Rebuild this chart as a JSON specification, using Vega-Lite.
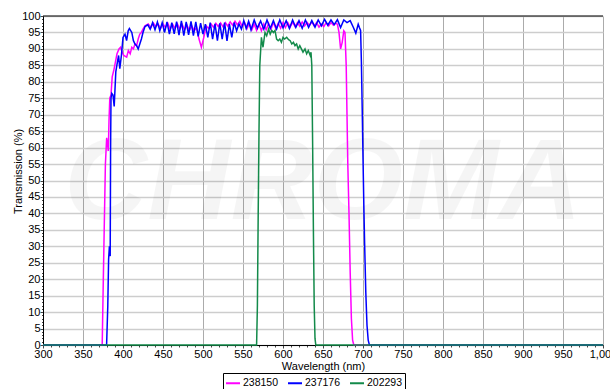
{
  "$schema": "https://vega.github.io/schema/vega-lite/v6.json",
  "autosize": {"type": "none"},
  "width": 560,
  "height": 329,
  "padding": {"left": 43, "right": 7, "top": 16, "bottom": 44},
  "background": "white",
  "config": {
    "view": {"stroke": null},
    "font": "Liberation Sans",
    "axis": {
      "labelFont": "Liberation Sans",
      "labelFontSize": 11,
      "labelColor": "#000",
      "titleFont": "Liberation Sans",
      "titleFontSize": 11,
      "titleFontWeight": "normal",
      "titleColor": "#000",
      "domainColor": "#000",
      "domainWidth": 1,
      "tickColor": "#000",
      "labelOverlap": false,
      "labelFlush": false,
      "grid": true
    }
  },
  "datasets": {
    "one": [{"label": "CHROMA"}],
    "curves": [
      {"s":"238150","w":300,"t":0},{"s":"238150","w":374,"t":0},{"s":"238150","w":375.4,"t":20},{"s":"238150","w":376.5,"t":35},{"s":"238150","w":378,"t":55},{"s":"238150","w":379.6,"t":63},{"s":"238150","w":381.6,"t":59},{"s":"238150","w":382.5,"t":68},{"s":"238150","w":383.5,"t":75},{"s":"238150","w":385,"t":76},{"s":"238150","w":386.5,"t":81.5},{"s":"238150","w":388.5,"t":83.5},{"s":"238150","w":390.5,"t":86},{"s":"238150","w":392.5,"t":88.5},{"s":"238150","w":395,"t":90},{"s":"238150","w":397,"t":90.5},{"s":"238150","w":399,"t":89},{"s":"238150","w":401,"t":88},{"s":"238150","w":404.6,"t":87.5},{"s":"238150","w":406.7,"t":89.5},{"s":"238150","w":409,"t":88.5},{"s":"238150","w":411,"t":90.5},{"s":"238150","w":413,"t":90},{"s":"238150","w":415,"t":91.5},{"s":"238150","w":417,"t":91},{"s":"238150","w":419,"t":93},{"s":"238150","w":421,"t":94.5},{"s":"238150","w":423,"t":95},{"s":"238150","w":425,"t":96},{"s":"238150","w":427.5,"t":97},{"s":"238150","w":431.5,"t":97.6},
      {"s":"238150","w":435,"t":96.5},{"s":"238150","w":438,"t":97.8},{"s":"238150","w":441,"t":96.8},{"s":"238150","w":444,"t":97.5},{"s":"238150","w":447,"t":96.2},{"s":"238150","w":450,"t":97.6},{"s":"238150","w":453,"t":96.5},{"s":"238150","w":456,"t":97.8},{"s":"238150","w":459,"t":96.0},{"s":"238150","w":462,"t":97.5},{"s":"238150","w":465,"t":96.3},{"s":"238150","w":468,"t":97.6},{"s":"238150","w":471,"t":96.0},{"s":"238150","w":474,"t":97.4},{"s":"238150","w":477,"t":95.8},{"s":"238150","w":480,"t":97.2},{"s":"238150","w":483,"t":95.6},{"s":"238150","w":486,"t":97.0},{"s":"238150","w":489,"t":95.5},{"s":"238150","w":492,"t":96.5},{"s":"238150","w":495,"t":93.0},{"s":"238150","w":498,"t":90.5},{"s":"238150","w":501,"t":93.5},{"s":"238150","w":504,"t":97.0},{"s":"238150","w":507,"t":96.2},{"s":"238150","w":510,"t":97.6},{"s":"238150","w":513,"t":96.6},{"s":"238150","w":516,"t":97.8},{"s":"238150","w":519,"t":96.8},{"s":"238150","w":522,"t":97.9},{"s":"238150","w":525,"t":96.7},{"s":"238150","w":528,"t":98.0},{"s":"238150","w":531,"t":96.9},{"s":"238150","w":534,"t":98.2},{"s":"238150","w":537,"t":97.2},{"s":"238150","w":540,"t":98.4},{"s":"238150","w":543,"t":97.3},{"s":"238150","w":546,"t":98.4},{"s":"238150","w":549,"t":96.8},{"s":"238150","w":552,"t":98.0},{"s":"238150","w":555,"t":96.2},{"s":"238150","w":558,"t":97.8},{"s":"238150","w":561,"t":95.8},{"s":"238150","w":564,"t":97.6},{"s":"238150","w":567,"t":95.6},{"s":"238150","w":570,"t":97.5},{"s":"238150","w":573,"t":95.5},{"s":"238150","w":576,"t":97.6},{"s":"238150","w":579,"t":95.8},{"s":"238150","w":582,"t":97.8},{"s":"238150","w":585,"t":96.0},{"s":"238150","w":588,"t":98.0},{"s":"238150","w":591,"t":96.2},{"s":"238150","w":594,"t":97.8},{"s":"238150","w":597,"t":96.3},{"s":"238150","w":600,"t":98.0},{"s":"238150","w":603,"t":96.5},{"s":"238150","w":606,"t":98.0},{"s":"238150","w":609,"t":96.6},{"s":"238150","w":612,"t":98.1},{"s":"238150","w":615,"t":96.8},{"s":"238150","w":618,"t":98.0},{"s":"238150","w":621,"t":96.9},{"s":"238150","w":624,"t":98.2},{"s":"238150","w":627,"t":97.0},{"s":"238150","w":630,"t":98.1},{"s":"238150","w":633,"t":97.1},{"s":"238150","w":636,"t":98.2},{"s":"238150","w":639,"t":97.0},{"s":"238150","w":642,"t":98.0},{"s":"238150","w":645,"t":96.6},{"s":"238150","w":648,"t":97.5},{"s":"238150","w":651,"t":96.8},{"s":"238150","w":654,"t":98.0},{"s":"238150","w":657,"t":97.0},{"s":"238150","w":660,"t":98.0},{"s":"238150","w":663,"t":97.2},{"s":"238150","w":666,"t":97.8},{"s":"238150","w":668,"t":97.5},{"s":"238150","w":670,"t":95},{"s":"238150","w":672,"t":90},{"s":"238150","w":674,"t":92},{"s":"238150","w":676,"t":95.5},{"s":"238150","w":677.5,"t":95},{"s":"238150","w":679,"t":85},{"s":"238150","w":680,"t":70},{"s":"238150","w":681,"t":55},{"s":"238150","w":682.5,"t":40},{"s":"238150","w":684,"t":22},{"s":"238150","w":685.5,"t":8},{"s":"238150","w":687,"t":1.5},{"s":"238150","w":688.5,"t":0},{"s":"238150","w":1000,"t":0},

      {"s":"237176","w":300,"t":0},{"s":"237176","w":379.5,"t":0},{"s":"237176","w":381,"t":12},{"s":"237176","w":382,"t":26},{"s":"237176","w":383,"t":30},{"s":"237176","w":384,"t":27},{"s":"237176","w":384.5,"t":60},{"s":"237176","w":385,"t":75},{"s":"237176","w":386,"t":76.5},{"s":"237176","w":387.5,"t":76},{"s":"237176","w":389,"t":72.5},{"s":"237176","w":391,"t":83},{"s":"237176","w":393,"t":86},{"s":"237176","w":394.5,"t":88},{"s":"237176","w":396,"t":84},{"s":"237176","w":398,"t":88},{"s":"237176","w":400,"t":93.5},{"s":"237176","w":402.5,"t":94.5},{"s":"237176","w":404.5,"t":92.5},{"s":"237176","w":406.5,"t":95.5},{"s":"237176","w":408,"t":96.2},{"s":"237176","w":411,"t":95},{"s":"237176","w":413,"t":92.5},{"s":"237176","w":415,"t":91.5},{"s":"237176","w":417,"t":91},{"s":"237176","w":419,"t":90},{"s":"237176","w":421,"t":91.5},{"s":"237176","w":423,"t":93},{"s":"237176","w":425,"t":95},{"s":"237176","w":427.5,"t":96.8},{"s":"237176","w":431,"t":97.3},
      {"s":"237176","w":434,"t":96.0},{"s":"237176","w":437,"t":98.0},{"s":"237176","w":440,"t":95.8},{"s":"237176","w":443,"t":98.2},{"s":"237176","w":446,"t":95.5},{"s":"237176","w":449,"t":98.0},{"s":"237176","w":452,"t":95.0},{"s":"237176","w":455,"t":98.2},{"s":"237176","w":458,"t":94.5},{"s":"237176","w":461,"t":98.0},{"s":"237176","w":464,"t":94.6},{"s":"237176","w":467,"t":98.3},{"s":"237176","w":470,"t":94.2},{"s":"237176","w":473,"t":98.5},{"s":"237176","w":476,"t":94.0},{"s":"237176","w":479,"t":98.2},{"s":"237176","w":482,"t":94.3},{"s":"237176","w":485,"t":98.4},{"s":"237176","w":488,"t":94.0},{"s":"237176","w":491,"t":98.2},{"s":"237176","w":494,"t":93.8},{"s":"237176","w":497,"t":97.8},{"s":"237176","w":500,"t":94.5},{"s":"237176","w":503,"t":97.5},{"s":"237176","w":506,"t":93.5},{"s":"237176","w":509,"t":98.0},{"s":"237176","w":512,"t":93.0},{"s":"237176","w":515,"t":97.6},{"s":"237176","w":518,"t":92.5},{"s":"237176","w":521,"t":97.8},{"s":"237176","w":524,"t":93.0},{"s":"237176","w":527,"t":98.0},{"s":"237176","w":530,"t":92.4},{"s":"237176","w":533,"t":97.5},{"s":"237176","w":536,"t":93.5},{"s":"237176","w":539,"t":98.0},{"s":"237176","w":542,"t":95.5},{"s":"237176","w":545,"t":97.6},{"s":"237176","w":548,"t":96.0},{"s":"237176","w":551,"t":98.6},{"s":"237176","w":554,"t":96.2},{"s":"237176","w":557,"t":98.4},{"s":"237176","w":560,"t":95.8},{"s":"237176","w":564,"t":98.8},{"s":"237176","w":568,"t":96.3},{"s":"237176","w":572,"t":98.5},{"s":"237176","w":576,"t":96.0},{"s":"237176","w":580,"t":98.8},{"s":"237176","w":584,"t":96.2},{"s":"237176","w":588,"t":98.6},{"s":"237176","w":592,"t":96.0},{"s":"237176","w":596,"t":98.8},{"s":"237176","w":600,"t":96.4},{"s":"237176","w":604,"t":98.6},{"s":"237176","w":608,"t":96.2},{"s":"237176","w":612,"t":98.8},{"s":"237176","w":616,"t":96.5},{"s":"237176","w":620,"t":98.6},{"s":"237176","w":624,"t":96.3},{"s":"237176","w":628,"t":98.8},{"s":"237176","w":632,"t":96.5},{"s":"237176","w":636,"t":98.6},{"s":"237176","w":640,"t":96.6},{"s":"237176","w":644,"t":98.8},{"s":"237176","w":648,"t":97.0},{"s":"237176","w":652,"t":99.0},{"s":"237176","w":656,"t":97.2},{"s":"237176","w":660,"t":98.8},{"s":"237176","w":664,"t":97.4},{"s":"237176","w":668,"t":98.9},{"s":"237176","w":672,"t":96.5},{"s":"237176","w":676,"t":98.8},{"s":"237176","w":680,"t":98.0},{"s":"237176","w":684,"t":98.6},{"s":"237176","w":688,"t":96.5},{"s":"237176","w":691,"t":94.8},{"s":"237176","w":694,"t":97.5},{"s":"237176","w":695.5,"t":96.5},{"s":"237176","w":697,"t":95.6},{"s":"237176","w":698,"t":86},{"s":"237176","w":699,"t":72},{"s":"237176","w":700,"t":57},{"s":"237176","w":701,"t":43},{"s":"237176","w":702,"t":31},{"s":"237176","w":703.5,"t":16},{"s":"237176","w":705,"t":6},{"s":"237176","w":706.5,"t":1.5},{"s":"237176","w":708,"t":0},{"s":"237176","w":1000,"t":0},

      {"s":"202293","w":300,"t":0},{"s":"202293","w":567,"t":0},{"s":"202293","w":568,"t":12},{"s":"202293","w":569,"t":40},{"s":"202293","w":570,"t":65},{"s":"202293","w":571,"t":85},{"s":"202293","w":573,"t":93.5},{"s":"202293","w":575,"t":90.5},{"s":"202293","w":577.5,"t":95},{"s":"202293","w":579.6,"t":94},{"s":"202293","w":582,"t":96},{"s":"202293","w":584,"t":94.5},{"s":"202293","w":586,"t":95.6},{"s":"202293","w":588,"t":95},{"s":"202293","w":590,"t":95.6},{"s":"202293","w":592,"t":93},{"s":"202293","w":594,"t":92.5},{"s":"202293","w":596,"t":93},{"s":"202293","w":598,"t":92},{"s":"202293","w":600,"t":93.5},{"s":"202293","w":602,"t":93},{"s":"202293","w":604.6,"t":93.5},{"s":"202293","w":607,"t":92.8},{"s":"202293","w":609,"t":92.5},{"s":"202293","w":611,"t":91.5},{"s":"202293","w":613,"t":92},{"s":"202293","w":615,"t":91},{"s":"202293","w":617,"t":91.5},{"s":"202293","w":619,"t":90},{"s":"202293","w":621,"t":91},{"s":"202293","w":623,"t":90},{"s":"202293","w":625,"t":89},{"s":"202293","w":627.5,"t":90},{"s":"202293","w":629.6,"t":88.5},{"s":"202293","w":631.6,"t":89.5},{"s":"202293","w":634,"t":88},{"s":"202293","w":635,"t":89},{"s":"202293","w":636,"t":85},{"s":"202293","w":637,"t":62},{"s":"202293","w":638,"t":35},{"s":"202293","w":639,"t":12},{"s":"202293","w":640,"t":2},{"s":"202293","w":641,"t":0},{"s":"202293","w":1000,"t":0}
    ]
  },
  "layer": [
    {
      "data": {"name": "one"},
      "mark": {"type": "text", "font": "Liberation Sans", "fontSize": 115, "fontStyle": "italic", "fontWeight": "bold", "fill": "#000", "fillOpacity": 0.04, "align": "center", "baseline": "middle"},
      "encoding": {
        "x": {"datum": 650, "type": "quantitative"},
        "y": {"datum": 49, "type": "quantitative"},
        "text": {"field": "label"}
      }
    },
    {
      "data": {"name": "curves"},
      "mark": {"type": "line", "strokeWidth": 1.5, "interpolate": "linear"},
      "encoding": {
        "x": {
          "field": "w", "type": "quantitative",
          "scale": {"domain": [300, 1000], "nice": false, "zero": false},
          "axis": {
            "title": "Wavelength (nm)",
            "grid": true,
            "tickCount": 70,
            "labelExpr": "datum.value % 50 === 0 ? datum.label : ''",
            "labelPadding": 0,
            "titlePadding": 1,
            "gridWidth": 1,
            "gridColor": {"condition": {"test": "datum.value % 50 === 0", "value": "#ababab"}, "value": "transparent"},
            "tickSize": {"condition": {"test": "datum.value % 50 === 0", "value": 3}, "value": 2},
            "tickColor": "#444"
          }
        },
        "y": {
          "field": "t", "type": "quantitative",
          "scale": {"domain": [0, 100], "nice": false},
          "axis": {
            "title": "Transmission (%)",
            "grid": true,
            "tickCount": 100,
            "labelExpr": "datum.value % 5 === 0 ? datum.label : ''",
            "labelPadding": 0,
            "titleX": -25,
            "titleY": 155,
            "titleAngle": -90,
            "titleAlign": "center",
            "titleBaseline": "middle",
            "gridWidth": 1.6,
            "gridColor": {"condition": {"test": "datum.value % 5 === 0", "value": "#cdcdcd"}, "value": "transparent"},
            "tickSize": {"condition": {"test": "datum.value % 5 === 0", "value": 3}, "value": 1.5},
            "tickColor": "#444"
          }
        },
        "color": {
          "field": "s", "type": "nominal",
          "scale": {"domain": ["238150", "237176", "202293"], "range": ["#ff00ff", "#0000ff", "#138a4a"]},
          "legend": {
            "title": null,
            "orient": "none",
            "legendX": 180,
            "legendY": 357,
            "direction": "horizontal",
            "symbolType": "stroke",
            "symbolSize": 196,
            "symbolStrokeWidth": 2,
            "labelFont": "Liberation Sans",
            "labelFontSize": 10.5,
            "labelColor": "#000",
            "labelOffset": 2,
            "columnPadding": 5,
            "padding": 2,
            "strokeColor": "#000",
            "fillColor": "#fff"
          }
        }
      }
    },
    {
      "data": {"name": "one"},
      "mark": {"type": "rule", "color": "#000", "strokeWidth": 1.2},
      "encoding": {"y": {"datum": 100, "type": "quantitative"}}
    }
  ]
}
